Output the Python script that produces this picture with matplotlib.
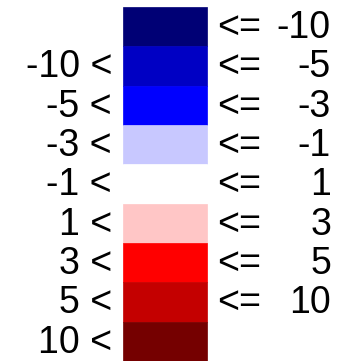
import numpy as np
import matplotlib
matplotlib.use("Agg")
import matplotlib.pyplot as plt

# legend classes, top to bottom
colors = ["#000075", "#0000C4", "#0000FF", "#C8C8FF", "#FFFFFF",
          "#FFC6C6", "#FF0000", "#C40000", "#750000"]
lower = ["", "-10", "-5", "-3", "-1", "1", "3", "5", "10"]
upper = ["-10", "-5", "-3", "-1", "1", "3", "5", "10", ""]

rows = np.arange(len(colors))
row_h = 354 / len(colors)  # pixel height of one row

fig = plt.figure(figsize=(3.51, 3.61), dpi=100)
ax = fig.add_axes([0, 0, 1, 1])
ax.set_xlim(0, 351)
ax.set_ylim(len(colors) - 0.5, -0.5 - 7 / row_h)
ax.axis("off")

ax.barh(rows, 84, left=123, height=1.0, color=colors,
        edgecolor=colors, linewidth=0.5)

font = dict(family=["Liberation Sans", "DejaVu Sans"], fontsize=27,
            va="center", color="black")
for r, lo, hi in zip(rows, lower, upper):
    if lo:
        ax.text(112, r + 0.03, lo + " <", ha="right", **font)
    if hi:
        ax.text(217, r + 0.03, "<=", ha="left", **font)
        ax.text(331, r + 0.03, hi, ha="right", **font)

fig.savefig("out.png", dpi=100)
